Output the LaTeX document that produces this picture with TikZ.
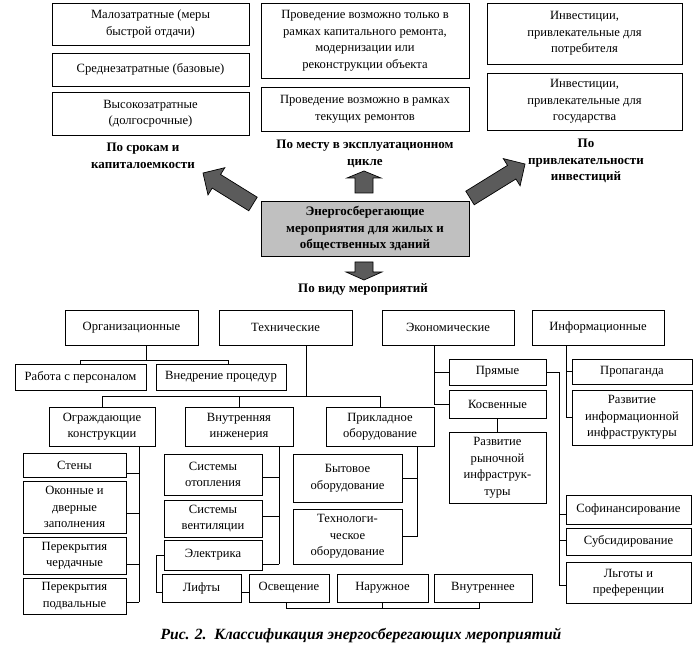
\documentclass[tikz,border=0pt]{standalone}
\usepackage{fontspec}
\setmainfont{Liberation Serif}
\definecolor{arrowgray}{HTML}{5B5B5B}
\definecolor{boxgray}{HTML}{C0C0C0}
\newcommand{\txtf}{\fontsize{12.6}{16.5}\selectfont}
\newcommand{\txtb}{\fontsize{13}{16.5}\selectfont\bfseries}
\newcommand{\capf}{\fontsize{15.6}{18}\selectfont\bfseries\itshape}
\tikzset{
  box/.style={draw, line width=0.8pt, inner sep=1pt, align=center, font=\txtf},
  lab/.style={align=center, font=\txtb},
  ln/.style={line width=0.8pt},
  barrow/.style={fill=arrowgray, draw=black, line width=0.7pt, line join=miter},
}
% \bx[options]{name}{x1}{y1}{x2}{y2}{text}
\newcommand{\bx}[7][]{\node[box,#1,minimum width={(#5-#3)*1pt},minimum height={(#6-#4)*1pt}] (#2) at ({(#3+#5)/2},{(#4+#6)/2}) {#7};}
\begin{document}
\begin{tikzpicture}[x=1pt,y=-1pt]
\useasboundingbox (0,0) rectangle (699,663);

% ---- top boxes
\bx{m1}{52}{3}{249}{45}{Малозатратные (меры\\быстрой отдачи)}
\bx{m2}{52}{53}{249}{86}{Среднезатратные (базовые)}
\bx{m3}{52}{92}{249}{135}{Высокозатратные\\(долгосрочные)}
\bx{p1}{261}{3}{469}{78}{Проведение возможно только в\\рамках капитального ремонта,\\модернизации или\\реконструкции объекта}
\bx{p2}{261}{87}{469}{131}{Проведение возможно в рамках\\текущих ремонтов}
\bx{i1}{487}{3}{682}{64}{Инвестиции,\\привлекательные для\\потребителя}
\bx{i2}{487}{73}{682}{130}{Инвестиции,\\привлекательные для\\государства}

\node[lab] (l1) at (143,156) {По срокам и\\капиталоемкости};
\node[lab] (l2) at (365,154) {По месту в эксплуатационном\\цикле};
\node[lab] (l3) at (586,161) {По\\привлекательности\\инвестиций};

% ---- central box
\bx[fill=boxgray,font=\txtb]{center}{261}{201}{469}{256}{Энергосберегающие\\мероприятия для жилых и\\общественных зданий}
\node[lab] (l4) at (363,289) {По виду мероприятий};

% ---- block arrows
\draw[barrow] (257.2,197.2) -- (220.6,174.5) -- (224.8,167.7) -- (203,173) -- (208,194.9) -- (212.2,188.1) -- (248.8,210.8) -- cycle;
\draw[barrow] (465.8,191.2) -- (507.5,165.4) -- (503.3,158.6) -- (525,164) -- (520.1,185.8) -- (515.9,179) -- (474.2,204.8) -- cycle;
\draw[barrow] (355,193) -- (355,178) -- (347,178) -- (364,171) -- (381,178) -- (373,178) -- (373,193) -- cycle;
\draw[barrow] (355,262) -- (373,262) -- (373,272) -- (382,272) -- (364,280) -- (346,272) -- (355,272) -- cycle;

% ---- level 1
\bx{org}{65}{310}{198}{345}{Организационные}
\bx{tech}{219}{310}{352}{345}{Технические}
\bx{econ}{382}{310}{514}{345}{Экономические}
\bx{info}{532}{310}{664}{345}{Информационные}

% ---- organisational
\bx{rab}{15}{364}{146}{390}{Работа с персоналом}
\bx{vned}{156}{364}{286}{390}{Внедрение процедур}

% ---- technical
\bx{ogr}{49}{407}{155}{446}{Ограждающие\\конструкции}
\bx{vnut}{185}{407}{293}{446}{Внутренняя\\инженерия}
\bx{prik}{326}{407}{434}{446}{Прикладное\\оборудование}

\bx{steny}{23}{453}{126}{477}{Стены}
\bx{okon}{23}{481}{126}{533}{Оконные и\\дверные\\заполнения}
\bx{perch}{23}{537}{126}{574}{Перекрытия\\чердачные}
\bx{perp}{23}{578}{126}{614}{Перекрытия\\подвальные}

\bx{sot}{164}{454}{262}{495}{Системы\\отопления}
\bx{svent}{164}{500}{262}{537}{Системы\\вентиляции}
\bx{elek}{164}{540}{262}{570}{Электрика}

\bx{lift}{162}{574}{241}{602}{Лифты}
\bx{osv}{249}{574}{329}{602}{Освещение}
\bx{nar}{337}{574}{428}{602}{Наружное}
\bx{vnutr}{434}{574}{532}{602}{Внутреннее}

\bx{byt}{293}{454}{402}{502}{Бытовое\\оборудование}
\bx{tehn}{293}{509}{402}{564}{Технологи-\\ческое\\оборудование}

% ---- economic
\bx{pryam}{449}{359}{546}{385}{Прямые}
\bx{kosv}{449}{390}{546}{418}{Косвенные}
\bx{rr}{449}{432}{546}{503}{Развитие\\рыночной\\инфраструк-\\туры}
\bx{sofin}{566}{495}{691}{524}{Софинансирование}
\bx{subs}{566}{528}{691}{555}{Субсидирование}
\bx{lgot}{566}{562}{691}{603}{Льготы и\\преференции}

% ---- informational
\bx{prop}{572}{359}{692}{384}{Пропаганда}
\bx{rinf}{572}{390}{692}{445}{Развитие\\информационной\\инфраструктуры}

% ---- caption
\node[font=\capf] (cap) at (361,636) {Рис. 2.\ \ Классификация энергосберегающих мероприятий};

% ---- connectors
% organisational
\draw[ln] (org.south -| 146,0) -- (146,360) coordinate (oj);
\draw[ln] (rab.north) -- (rab.north |- oj) -- (228,0 |- oj) -- (228,0 |- vned.north);
% technical
\draw[ln] (tech.south -| 306,0) -- (306,396) coordinate (tj);
\draw[ln] (ogr.north) -- (ogr.north |- tj) -- (prik.north |- tj) -- (prik.north);
\draw[ln] (vnut.north) -- (vnut.north |- tj);
% envelope
\draw[ln] (ogr.south -| 139,0) -- (139,602);
\foreach \n/\y in {steny/473,okon/513,perch/564,perp/602}
  \draw[ln] (139,\y) -- (\n.east |- 0,\y);
% engineering
\draw[ln] (vnut.south -| 279,0) -- (279,564);
\foreach \n/\y in {sot/477,svent/516,elek/564}
  \draw[ln] (279,\y) -- (\n.east |- 0,\y);
\draw[ln] (elek.west |- 0,555) -- (156,555) -- (156,592) -- (lift.west |- 0,592);
\draw[ln] (lift.east |- 0,592) -- (osv.west |- 0,592);
\draw[ln] (osv.south -| 286,0) -- (286,608) -- (479,608) -- (vnutr.south -| 479,0);
\draw[ln] (nar.south) -- (nar.south |- 0,608);
% applied equipment
\draw[ln] (prik.south -| 417,0) -- (417,0 |- tehn.east) -- (tehn.east);
\draw[ln] (byt.east) -- (417,0 |- byt.east);
% economic
\draw[ln] (econ.south -| 434,0) -- (434,0 |- kosv.west) -- (kosv.west);
\draw[ln] (pryam.west) -- (434,0 |- pryam.west);
\draw[ln] (kosv.south) -- (rr.north);
\draw[ln] (pryam.east) -- (559,0 |- pryam.east) -- (559,585) -- (lgot.west |- 0,585);
\draw[ln] (559,514) -- (sofin.west |- 0,514);
\draw[ln] (559,540) -- (subs.west |- 0,540);
% informational
\draw[ln] (info.south -| 566,0) -- (566,0 |- rinf.west) -- (rinf.west);
\draw[ln] (prop.west) -- (566,0 |- prop.west);
\end{tikzpicture}
\end{document}
